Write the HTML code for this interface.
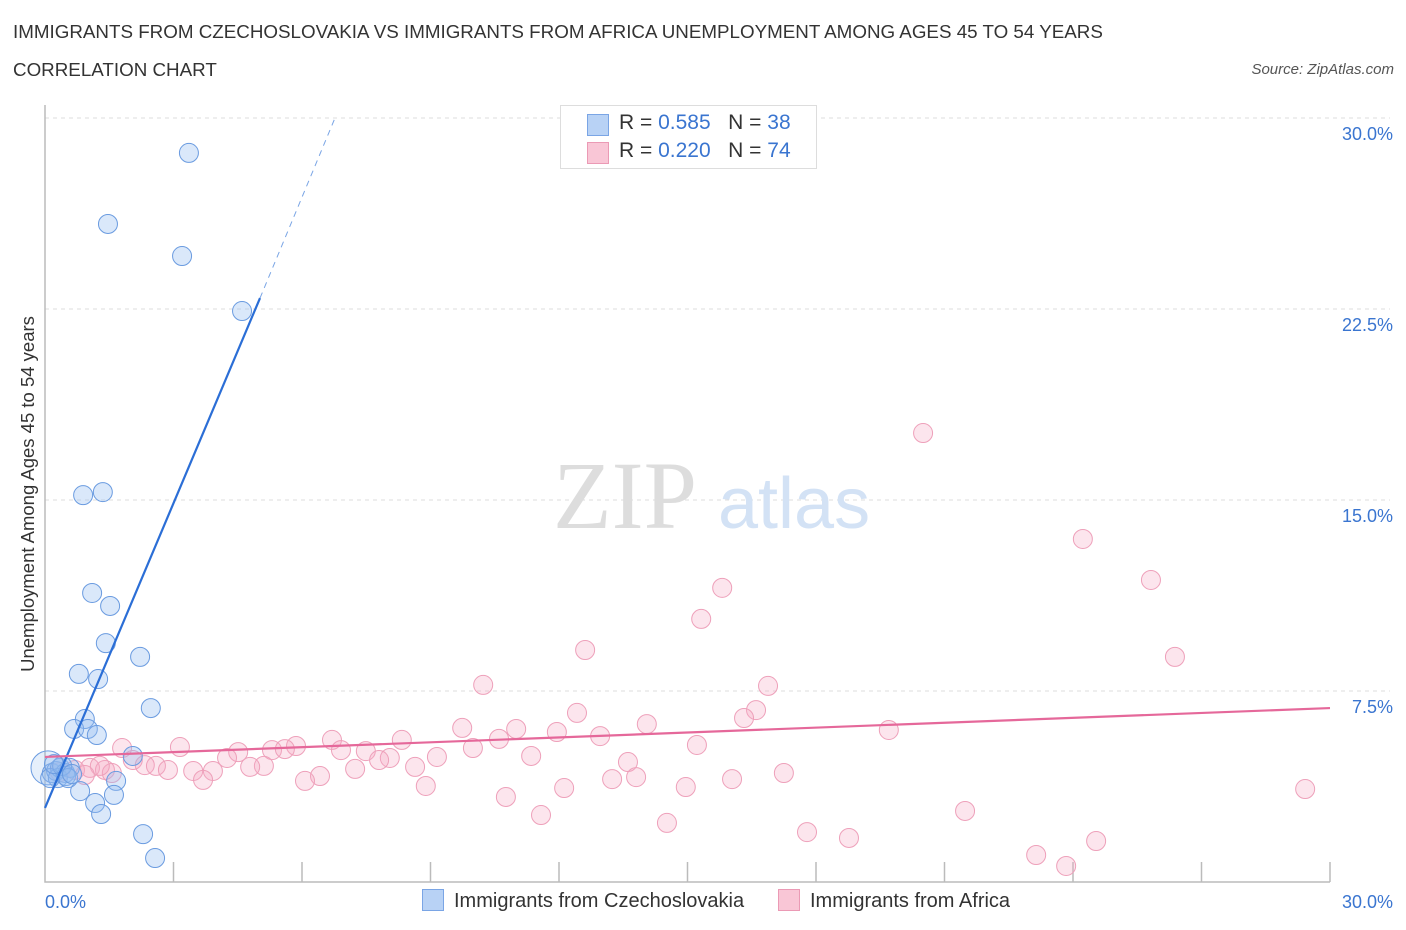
<!DOCTYPE html>
<html><head><meta charset="utf-8"><style>
body{margin:0;background:#fff;font-family:"Liberation Sans",sans-serif;}
#wrap{position:relative;width:1406px;height:930px;overflow:hidden;}
.t{position:absolute;white-space:nowrap;}
</style></head><body>
<div id="wrap">
<div class="t" style="left:13px;top:21px;font-size:18.8px;color:#333;">IMMIGRANTS FROM CZECHOSLOVAKIA VS IMMIGRANTS FROM AFRICA UNEMPLOYMENT AMONG AGES 45 TO 54 YEARS</div>
<div class="t" style="left:13px;top:59px;font-size:18.8px;color:#333;">CORRELATION CHART</div>
<div class="t" style="right:12px;top:61px;font-size:15px;color:#555;font-style:italic;">Source: ZipAtlas.com</div>
<svg id="svg" width="1406" height="930" style="position:absolute;left:0;top:0"></svg>
</div>
<script>
const blueX=[3.36,1.47,3.20,4.60,0.89,1.35,1.10,1.52,1.42,2.22,0.79,1.24,2.47,0.93,0.68,1.00,1.21,2.05,1.66,0.82,1.61,1.17,1.31,2.29,2.57,0.07,0.16,0.26,0.35,0.47,0.58,0.30,0.49,0.12,0.40,0.54,0.21,0.63];
const blueY=[28.63,25.84,24.58,22.42,15.19,15.31,11.35,10.84,9.38,8.84,8.17,7.97,6.83,6.40,6.01,6.01,5.77,4.95,3.97,3.57,3.42,3.10,2.67,1.88,0.94,4.48,4.28,4.36,4.48,4.28,4.48,4.08,4.16,4.08,4.56,4.08,4.63,4.24];
const pinkX=[20.50,24.23,25.82,15.81,15.32,12.61,26.38,10.23,16.88,12.42,16.60,16.32,14.05,9.74,11.00,19.70,11.95,12.96,10.60,8.33,6.70,15.22,3.15,1.80,5.86,5.30,5.60,4.51,9.99,6.91,7.49,11.35,9.15,8.05,7.80,13.61,4.25,8.64,5.11,4.79,2.05,2.33,2.59,2.87,3.46,3.92,7.24,17.25,6.42,13.80,13.24,6.07,16.04,3.69,8.89,12.12,14.96,29.42,10.76,21.48,11.58,14.52,17.79,18.77,24.54,23.14,23.84,0.35,0.70,1.05,1.40,1.56,1.28,0.93];
const pinkY=[17.63,13.47,11.86,11.55,10.33,9.11,8.84,7.74,7.70,6.64,6.75,6.44,6.20,6.05,6.01,5.97,5.89,5.73,5.62,5.58,5.58,5.38,5.30,5.26,5.34,5.18,5.22,5.10,5.26,5.18,5.14,4.95,4.91,4.87,4.79,4.71,4.87,4.52,4.56,4.52,4.79,4.59,4.56,4.40,4.36,4.36,4.44,4.28,4.16,4.12,4.04,3.97,4.04,4.01,3.77,3.69,3.73,3.65,3.34,2.79,2.63,2.32,1.96,1.73,1.61,1.06,0.63,4.32,4.40,4.48,4.40,4.28,4.56,4.20];
const yTicks=[7.5,15.0,22.5,30.0];
const blueLine=[[0,2.91],[5.02,22.93]], blueDash=[[5.02,22.93],[6.77,30]];
const pinkLine=[[0,4.91],[30,6.83]];
const X=v=>45+v/30*1285, Y=v=>882-v/30*764;
const svg=document.getElementById('svg'),NS='http://www.w3.org/2000/svg';
function mk(tag,attrs,parent){const e=document.createElementNS(NS,tag);for(const k in attrs)e.setAttribute(k,attrs[k]);(parent||svg).appendChild(e);return e;}
yTicks.forEach(t=>{const g=mk('line',{x1:45,x2:1390,y1:Y(t),y2:Y(t),stroke:'#ddd','stroke-dasharray':'4,4'});


const tx=mk('text',{x:1393,y:Y(t)+22,'text-anchor':'end','font-size':18,fill:'#3a75d0','font-family':'Liberation Sans'});tx.textContent=t.toFixed(1)+'%';

});
const ax=mk('path',{d:'M45 105 V882 H1330',stroke:'#bbb',fill:'none','stroke-width':1.5});


for(let i=1;i<=10;i++){const l=mk('line',{x1:X(i*3),x2:X(i*3),y1:862,y2:882,stroke:'#bbb','stroke-width':1.5});

}
const wm=mk('text',{x:553,y:528,'font-size':96,fill:'#ddd','font-family':'Liberation Serif'});wm.textContent='ZIP';


const wm2=mk('text',{x:718,y:528,'font-size':72,fill:'#d3e2f5','font-family':'Liberation Sans'});wm2.textContent='atlas';


pinkX.forEach((x,i)=>{const c=mk('circle',{cx:X(x),cy:Y(pinkY[i]),r:9.5,fill:'rgba(244,170,195,0.3)',stroke:'#eea0ba','stroke-width':1});

});
blueX.forEach((x,i)=>{const c=mk('circle',{cx:X(x),cy:Y(blueY[i]),r:i==25?17:9.5,fill:i==25?'rgba(150,190,240,0.25)':'rgba(150,190,240,0.35)',stroke:'#6a9be0','stroke-width':1});

});
const bl=mk('line',{x1:X(blueLine[0][0]),y1:Y(blueLine[0][1]),x2:X(blueLine[1][0]),y2:Y(blueLine[1][1]),stroke:'#2b6ed6','stroke-width':2.2});


const bd=mk('line',{x1:X(blueDash[0][0]),y1:Y(blueDash[0][1]),x2:X(blueDash[1][0]),y2:Y(blueDash[1][1]),stroke:'#7aa5e5','stroke-width':1,'stroke-dasharray':'6,5'});


const pl=mk('line',{x1:X(pinkLine[0][0]),y1:Y(pinkLine[0][1]),x2:X(pinkLine[1][0]),y2:Y(pinkLine[1][1]),stroke:'#e5689a','stroke-width':2.2});


[['0.0%',45,'start'],['30.0%',1393,'end']].forEach(a=>{const t=mk('text',{x:a[1],y:908,'text-anchor':a[2],'font-size':18,fill:'#3a75d0','font-family':'Liberation Sans'});t.textContent=a[0];

});
const yt=mk('text',{x:34,y:494,'text-anchor':'middle','font-size':18.5,fill:'#333','font-family':'Liberation Sans',transform:'rotate(-90 34 494)'});yt.textContent='Unemployment Among Ages 45 to 54 years';


</script>
<div style="position:absolute;left:560px;top:105px;width:255px;height:62px;border:1px solid #ddd;background:#fff;font-size:21px;">
<div style="position:absolute;left:26px;top:8px;width:20px;height:20px;background:#b8d2f5;border:1px solid #7aa5e5;"></div>
<div class="t" style="left:58px;top:5px;color:#333;">R = <span style="color:#3a75d0">0.585</span>&nbsp;&nbsp;&nbsp;N = <span style="color:#3a75d0">38</span></div>
<div style="position:absolute;left:26px;top:36px;width:20px;height:20px;background:#f9c6d6;border:1px solid #eb9ab5;"></div>
<div class="t" style="left:58px;top:33px;color:#333;">R = <span style="color:#3a75d0">0.220</span>&nbsp;&nbsp;&nbsp;N = <span style="color:#3a75d0">74</span></div>
</div>
<div style="position:absolute;left:422px;top:889px;font-size:20px;color:#333;white-space:nowrap;">
<span style="display:inline-block;width:20px;height:20px;background:#b8d2f5;border:1px solid #7aa5e5;vertical-align:-4px;margin-right:10px;"></span>Immigrants from Czechoslovakia</div>
<div style="position:absolute;left:778px;top:889px;font-size:20px;color:#333;white-space:nowrap;">
<span style="display:inline-block;width:20px;height:20px;background:#f9c6d6;border:1px solid #eb9ab5;vertical-align:-4px;margin-right:10px;"></span>Immigrants from Africa</div>
</body></html>
